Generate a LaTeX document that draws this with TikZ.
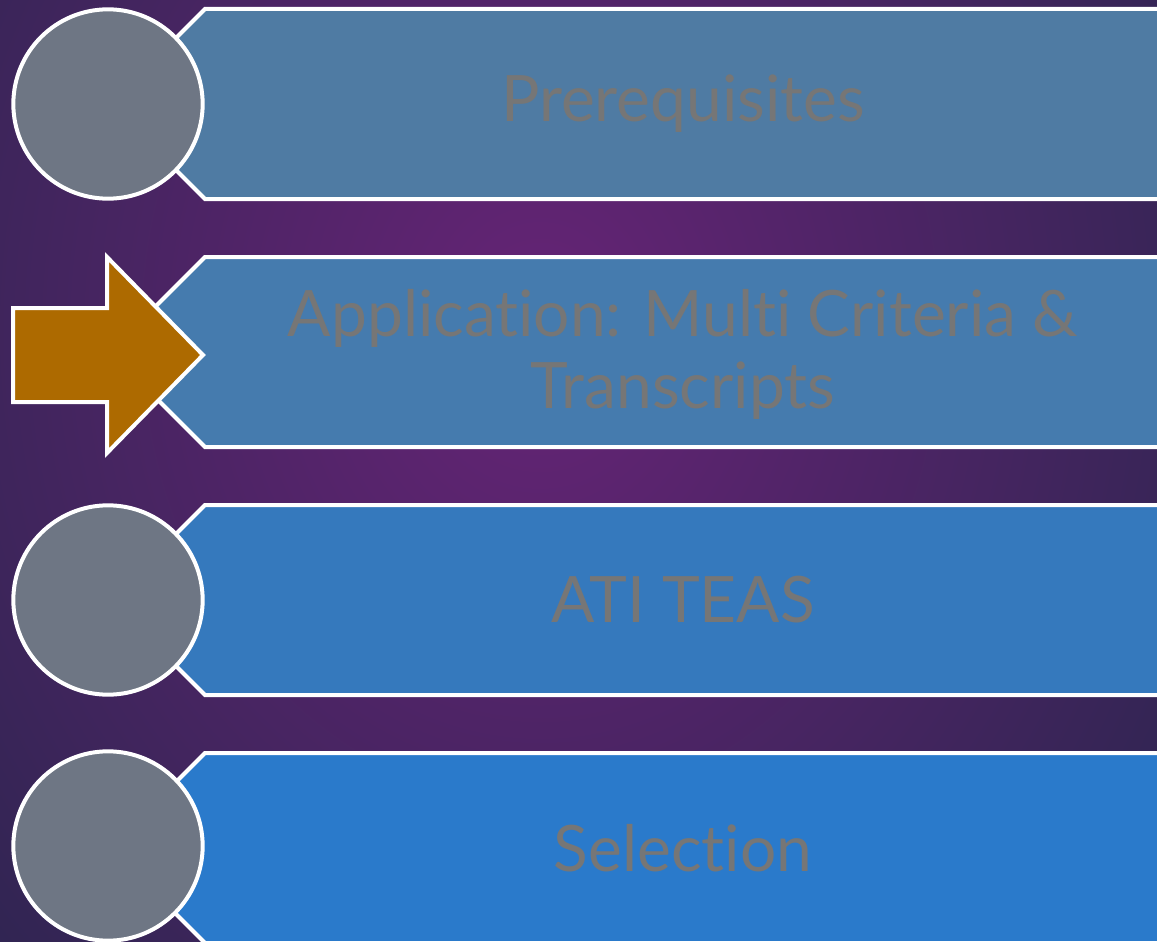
\documentclass[tikz,border=0pt]{standalone}
\usepackage{fontspec}
\setmainfont{Lato}[Ligatures={NoCommon,NoRequired,NoContextual}]
\definecolor{bgdark}{HTML}{2D2550}
\definecolor{bgglow}{HTML}{662476}
\definecolor{bandone}{HTML}{4F7BA3}
\definecolor{bandtwo}{HTML}{457BAE}
\definecolor{bandthree}{HTML}{3579BD}
\definecolor{bandfour}{HTML}{2A7ACB}
\definecolor{discgrey}{HTML}{6E7684}
\definecolor{arrowgold}{HTML}{AD6A00}
\definecolor{labelgrey}{HTML}{767676}
\pgfdeclareradialshading{glow}{\pgfpoint{0bp}{0bp}}{color(0bp)=(bgglow); color(25bp)=(bgdark); color(50bp)=(bgdark)}
\tikzset{
  band/.style={draw=white,line width=3pt,line join=miter},
  disc/.style={circle,draw=white,line width=3pt,fill=discgrey,minimum size=142pt,inner sep=0pt},
  bandlabel/.style={text=labelgrey,font=\fontsize{48}{54}\selectfont,align=center}
}
\begin{document}
\begin{tikzpicture}[x=0.75pt,y=-0.75pt]
    \useasboundingbox (0,0) rectangle (1157,942);
    % background
    \begin{scope}
      \clip (0,0) rectangle (1157,942);
      \fill[bgdark] (0,0) rectangle (1157,942);
      \shade[shading=glow] (540,330) ellipse (800 and 950);
    \end{scope}

    % bands
    \draw[band,fill=bandone] (205,9) -- (1175,9) -- (1175,199) -- (205,199) -- (110,104) -- cycle;
    \draw[band,fill=bandtwo] (205,257) -- (1175,257) -- (1175,447) -- (205,447) -- (110,352) -- cycle;
    \draw[band,fill=bandthree] (205,505) -- (1175,505) -- (1175,695) -- (205,695) -- (110,600) -- cycle;
    \draw[band,fill=bandfour] (205,753) -- (1175,753) -- (1175,943) -- (205,943) -- (110,848) -- cycle;

    \node[bandlabel] (prereq) at (683,104) {Prerequisites};
    \node[bandlabel] (apply) at (683,354) {Application: Multi Criteria \&\\Transcripts};
    \node[bandlabel] (teas) at (683,600) {ATI TEAS};
    \node[bandlabel] (select) at (683,848) {Selection};

    % markers
    \node[disc] (d1) at (108,104) {};
    \draw[band,fill=arrowgold] (13,308) -- (107,308) -- (107,257) -- (203,355)
      -- (107,453) -- (107,402) -- (13,402) -- cycle;
    \node[disc] (d3) at (108,600) {};
    \node[disc] (d4) at (108,846) {};
  \end{tikzpicture}
\end{document}
